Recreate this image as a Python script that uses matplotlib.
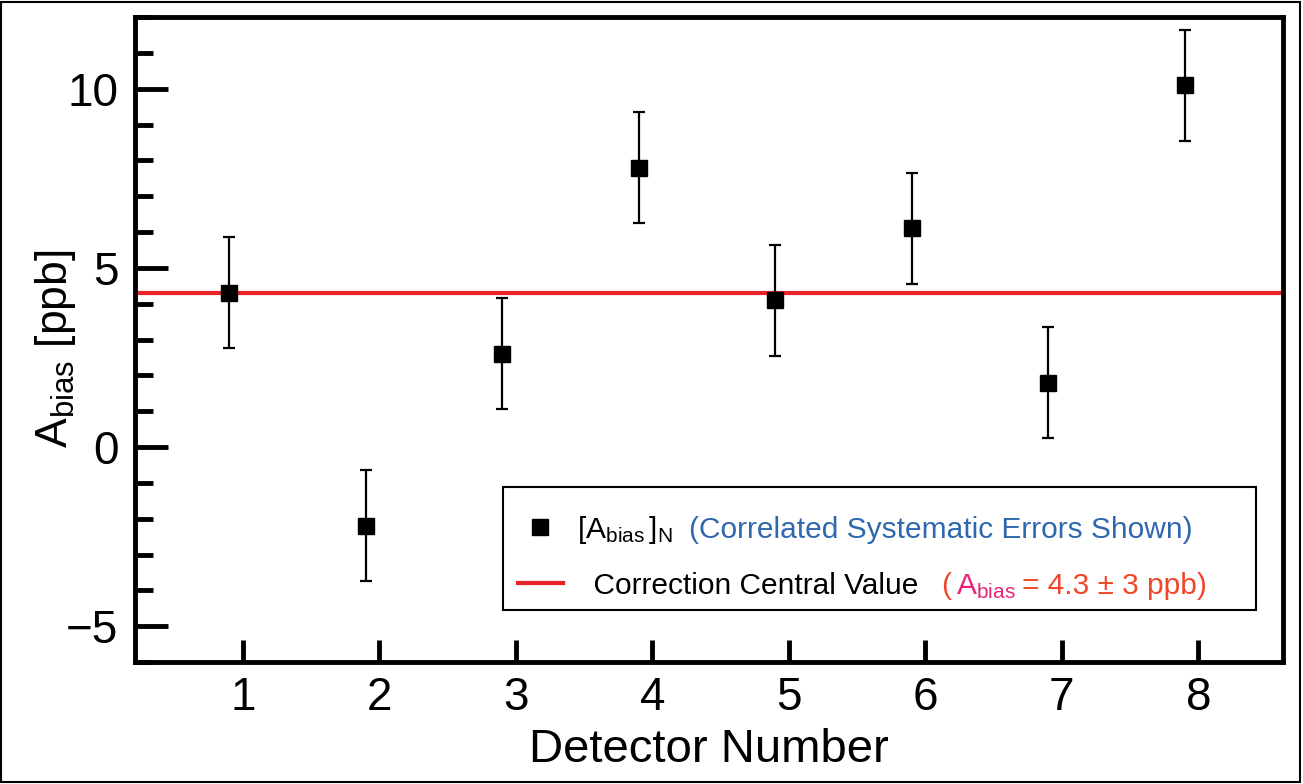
import matplotlib.pyplot as plt
import matplotlib.transforms as mtransforms
from matplotlib.lines import Line2D
from matplotlib.patches import Rectangle
from matplotlib.ticker import MultipleLocator

plt.rcParams['font.family'] = ['Liberation Sans', 'DejaVu Sans']
plt.rcParams['mathtext.fontset'] = 'custom'
plt.rcParams['mathtext.rm'] = 'Liberation Sans'
plt.rcParams['mathtext.it'] = 'Liberation Sans:italic'

# data
detector = [1, 2, 3, 4, 5, 6, 7, 8]
a_bias = [4.3, -2.2, 2.6, 7.8, 4.1, 6.1, 1.8, 10.1]
a_err = [1.55, 1.55, 1.55, 1.55, 1.55, 1.55, 1.55, 1.55]
central_value = 4.3
x_shift = -0.1  # points drawn slightly left of the detector tick

red = '#e8232a'
blue = '#2f68ae'
pink = '#e8237a'
orange_red = '#f0462a'

fig = plt.figure(figsize=(13.03, 7.84), dpi=100)
ax = fig.add_axes([0.1036, 0.1556, 0.881, 0.8227])

x_pos = [d + x_shift for d in detector]
ax.errorbar(x_pos, a_bias, yerr=a_err, fmt='s', color='black', ms=12,
            elinewidth=1.6, capsize=4, capthick=1.6, zorder=3)
ax.axhline(central_value, color=red, lw=3, zorder=2)

ax.set_xlim(0.21, 8.62)
ax.set_ylim(-6, 12)
ax.set_xticks(detector)
ax.yaxis.set_major_locator(MultipleLocator(5))
ax.yaxis.set_minor_locator(MultipleLocator(1))

ax.tick_params(axis='y', which='major', direction='in', length=24, width=3.5,
               labelsize=33, pad=12)
ax.tick_params(axis='y', which='minor', direction='in', length=13, width=3.5)
ax.tick_params(axis='x', which='major', direction='in', length=16, width=3.5,
               labelsize=33, pad=10)
for s in ax.spines.values():
    s.set_linewidth(3.5)

ax.set_xlabel('Detector Number', fontsize=34, labelpad=6)
ax.set_ylabel(r'$\mathregular{A_{bias}}$ [ppb]', fontsize=32)
ax.yaxis.set_label_coords(-0.05, 0.485)

# legend: frame drawn as its own box, entries placed inside it
box = (0.3206, 0.0806, 0.656, 0.1907)
ax.add_patch(Rectangle(box[:2], box[2], box[3], transform=ax.transAxes,
                       facecolor='white', edgecolor='black', lw=1.5, zorder=4))
handles = [Line2D([], [], marker='s', color='black', ls='none', ms=11),
           Line2D([], [], color=red, lw=3)]
labels = [r'$\mathregular{[A_{bias}\,]_N}$', '  Correction Central Value']
leg = ax.legend(handles, labels, loc='upper left',
                bbox_to_anchor=(box[0] - 0.0105, box[1], box[2], box[3]),
                mode='expand', fontsize=21.5, frameon=False,
                borderpad=0.9, labelspacing=0.87, handlelength=1.5,
                handletextpad=0.47, borderaxespad=0)
leg.set_zorder(5)

# outer border of the whole picture
fig.add_artist(Rectangle((0.001, 0.002), 0.997, 0.995, transform=fig.transFigure,
                         fill=False, lw=1.5, edgecolor='black'))

# coloured notes appended after the legend labels
fig.canvas.draw()
renderer = fig.canvas.get_renderer()
ident = mtransforms.IdentityTransform()


def append_text(label, segments):
    bb = label.get_window_extent(renderer)
    base_y = label.get_transform().transform(label.get_position())[1]
    x = bb.x1
    for s, color, gap in segments:
        t = fig.text(x + gap, base_y, s, color=color, fontsize=21.5,
                     va='baseline', ha='left', transform=ident, zorder=6)
        x = t.get_window_extent(renderer).x1


leg_texts = leg.get_texts()
append_text(leg_texts[0], [('(Correlated Systematic Errors Shown)', blue, 16)])
append_text(leg_texts[1], [('(', orange_red, 23),
                           (r'$\mathregular{A_{bias}}$', pink, 5),
                           ('= 4.3 ± 3 ppb)', orange_red, 6)])

fig.savefig('out.png', dpi=100)
